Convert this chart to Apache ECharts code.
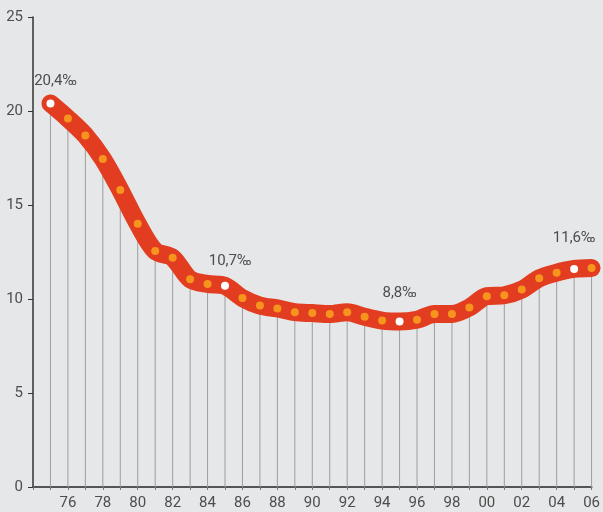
<!DOCTYPE html>
<html>
<head>
<meta charset="utf-8">
<style>
  html, body { margin: 0; padding: 0; background: #e6e7e9; }
  #chart { width: 603px; height: 512px; }
</style>
<script src="https://cdn.jsdelivr.net/npm/echarts@6/dist/echarts.min.js"></script>
</head>
<body>
<div id="chart"></div>
<script>
// years 1974..2006, 1974 is the empty origin slot
const years = ['74', '75', '76', '77', '78', '79', '80', '81', '82', '83', '84', '85', '86', '87', '88', '89', '90',
  '91', '92', '93', '94', '95', '96', '97', '98', '99', '00', '01', '02', '03', '04', '05', '06'];
const rates = [null, 20.4, 19.6, 18.7, 17.45, 15.8, 14.0, 12.55, 12.2, 11.05, 10.8, 10.7, 10.05, 9.65, 9.5, 9.3, 9.25,
  9.2, 9.3, 9.05, 8.85, 8.8, 8.9, 9.2, 9.2, 9.55, 10.15, 10.2, 10.5, 11.1, 11.4, 11.6, 11.65];
const highlights = { '75': '20,4‰', '85': '10,7‰', '95': '8,8‰', '05': '11,6‰' };
const labelOffsets = { '75': [5, -6], '85': [5, -8], '95': [0, -12], '05': [0, -14] };

const font = "'Liberation Sans Narrow', 'Roboto', sans-serif";

const chart = echarts.init(document.getElementById('chart'));

const lineData = rates.map((v, i) => {
  const y = years[i];
  if (highlights[y]) {
    return {
      value: v,
      itemStyle: { color: '#ffffff' },
      label: {
        show: true,
        position: 'top',
        offset: labelOffsets[y],
        formatter: highlights[y],
        fontSize: 15,
        fontFamily: font,
        color: '#4d4d4d'
      }
    };
  }
  return v;
});

chart.setOption({
  backgroundColor: '#e6e7e9',
  animation: false,
  grid: { left: 33, right: 9, top: 17, bottom: 25 },
  xAxis: {
    type: 'category',
    data: years,
    boundaryGap: false,
    axisLine: { lineStyle: { color: '#555', width: 2 } },
    axisTick: { show: true, length: 3, interval: 0, lineStyle: { color: '#777' } },
    axisLabel: {
      interval: 0,
      margin: 9,
      fontSize: 15,
      fontFamily: font,
      color: '#4d4d4d',
      formatter: (val, idx) => (idx > 0 && idx % 2 === 0 ? val : '')
    },
    splitLine: { show: false }
  },
  yAxis: {
    type: 'value',
    min: 0,
    max: 25,
    interval: 5,
    axisLine: { show: true, lineStyle: { color: '#333', width: 1.5 } },
    axisTick: { show: true, inside: false, length: 5, lineStyle: { color: '#333' } },
    axisLabel: { margin: 10, fontSize: 15, fontFamily: font, color: '#4d4d4d' },
    splitLine: { show: false }
  },
  series: [
    {
      type: 'bar',
      data: rates,
      barWidth: 1,
      silent: true,
      itemStyle: { color: '#9d9d9d' },
      z: 1
    },
    {
      type: 'line',
      data: lineData,
      smooth: 0.3,
      symbol: 'circle',
      symbolSize: 8,
      showAllSymbol: true,
      lineStyle: { color: '#e23d20', width: 18, cap: 'round', join: 'round' },
      itemStyle: { color: '#f7941d', borderWidth: 0 },
      z: 3
    }
  ]
});
</script>
</body>
</html>
